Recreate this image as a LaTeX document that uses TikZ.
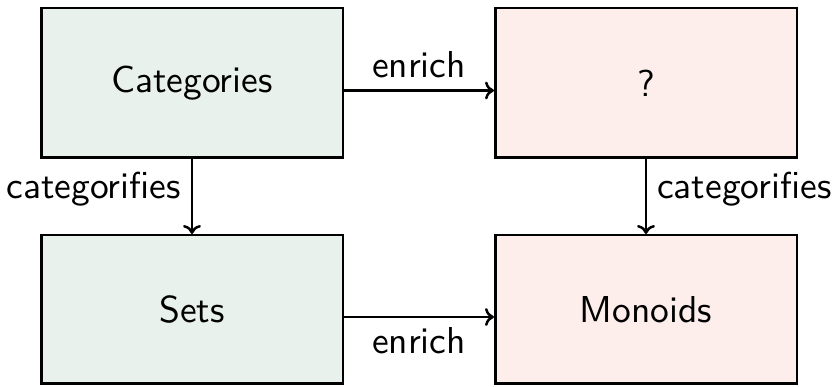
\documentclass[tikz,border=0pt]{standalone}
\usepackage{fontspec}
\usetikzlibrary{arrows.meta}
\newfontfamily\diagfont{lmsans10-regular.otf}
\definecolor{mintfill}{RGB}{232,241,236}
\definecolor{rosefill}{RGB}{253,237,235}
\begin{document}
\begin{tikzpicture}[x=1pt,y=-1pt,
  txt/.style={font=\diagfont\fontsize{37.5}{45}\selectfont},
  box/.style={txt, draw=black, line width=2.5pt, minimum width=301.5pt, minimum height=149.5pt,
    inner sep=0pt},
  greenbox/.style={box, fill=mintfill},
  pinkbox/.style={box, fill=rosefill},
  link/.style={line width=2.5pt, -{Computer Modern Rightarrow[length=9pt,width=18pt]}},
  lbl/.style={txt, inner sep=10pt}]
  \useasboundingbox (0,0) rectangle (833,387);
  \node[greenbox] (cat) at (192,83) {Categories};
  \node[pinkbox]  (q)   at (646,83) {?};
  \node[greenbox, minimum height=148.5pt] (sets) at (192,309.5) {Sets};
  \node[pinkbox,  minimum height=148.5pt] (mon)  at (646,309.5) {Monoids};
  \draw[link] ([yshift=-7.5pt]cat.east) -- node[lbl, above, inner sep=11pt] {enrich} ([yshift=-7.5pt]q.west);
  \draw[link] ([yshift=-7.5pt]sets.east) -- node[lbl, below, inner sep=9pt] {enrich} ([yshift=-7.5pt]mon.west);
  \draw[link] (cat.south) -- node[lbl, left, yshift=7pt] {categorifies} (sets.north);
  \draw[link] (q.south) -- node[lbl, right, yshift=7pt] {categorifies} (mon.north);
\end{tikzpicture}
\end{document}
